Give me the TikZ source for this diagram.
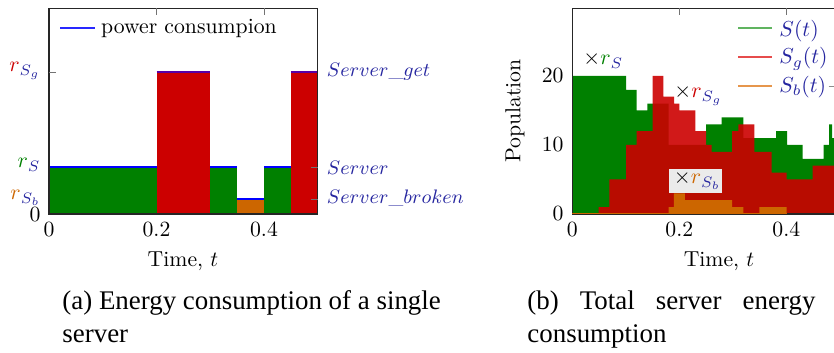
\documentclass[tikz,border=0pt]{standalone}
\usepackage{fontspec}
\newfontfamily\capfont{Liberation Serif}
\definecolor{sgreen}{RGB}{0,128,0}
\definecolor{sred}{RGB}{204,0,0}
\definecolor{sorange}{RGB}{204,102,0}
\definecolor{bluetext}{RGB}{38,38,160}
\definecolor{lgreen}{RGB}{96,180,96}
\definecolor{lred}{RGB}{230,76,76}
\definecolor{lorange}{RGB}{230,150,76}
\definecolor{legblue}{RGB}{40,40,255}
\begin{document}
\begin{tikzpicture}[x=0.4608pt,y=-0.4608pt,
  axisline/.style={black!85, line width=0.5pt},
  tickmark/.style={black!55, line width=0.4pt},
  lbl/.style={inner sep=0pt},
  rlbl/.style={inner sep=0pt, anchor=base west, text=bluetext, font=\fontsize{8.8}{11}\selectfont},
  powline/.style={blue, line width=0.5pt},
  caption/.style={inner sep=0pt, anchor=base west, font=\capfont\fontsize{12.4}{15}\selectfont},
  legline/.style={line width=0.9pt}]
\useasboundingbox (0,0) rectangle (834,353);

% ---------------- left plot ----------------
\fill[sgreen]  (49,214)    rectangle (156.5,167);
\fill[sred]    (156.5,214) rectangle (210.25,72);
\fill[sgreen]  (210.25,214) rectangle (237.1,167);
\fill[sorange] (237.1,214) rectangle (264,199);
\fill[sgreen]  (264,214)   rectangle (290.9,167);
\fill[sred]    (290.9,214) rectangle (317.5,72);
\draw[powline] (49,167) -- (156.5,167) (210.25,167) -- (237.1,167) (237.1,199) -- (264,199)
  (264,167) -- (290.9,167);
\draw[powline, draw=violet!70!blue] (156.5,72) -- (210.25,72) (290.9,72) -- (317.5,72);
\draw[axisline] (49,8.3) rectangle (317.5,214);
\draw[tickmark] (156.5,8.3) -- (156.5,15) (264,8.3) -- (264,15) (49,72) -- (56,72)
  (317.5,167) -- (310.5,167) (317.5,199) -- (310.5,199);
% legend
\fill[legblue] (60,26.8) rectangle (95,28.6);
\node[lbl, anchor=base west] (legp) at (100.7,33.3) {power consumpion};
% y labels
\node[lbl, anchor=base east] (rsg) at (41,72) {${\color{sred}r}_{\color{bluetext}S_g}$};
\node[lbl, anchor=base east] (rs)  at (41,168) {${\color{sgreen}r}_{\color{bluetext}S}$};
\node[lbl, anchor=base east] (rsb) at (41,200) {${\color{sorange}r}_{\color{bluetext}S_b}$};
\node[lbl, anchor=base east] (ly0) at (41,222) {$0$};
\node[rlbl] (sget) at (326.5,76.5) {$Server\_get$};
\node[rlbl] (serv) at (326.5,174.5) {$Server$};
\node[rlbl] (sbro) at (326.5,203.5) {$Server\_broken$};
% x labels
\node[lbl, anchor=base] (lx0) at (49,237) {$0$};
\node[lbl, anchor=base] (lx2) at (156.5,237) {$0.2$};
\node[lbl, anchor=base] (lx4) at (264,237) {$0.4$};
\node[lbl, anchor=base] (ltime) at (183,267) {Time, $t$};

% ---------------- right plot ----------------
\begin{scope}[shift={(0,214)}, y=3.1795pt]
\fill[sgreen] (572.3,0) -- plot[const plot] coordinates {(572.3,20) (626,18) (636.6,15)
  (647.3,16) (668.7,10) (706,13) (721.7,14) (743.3,11) (776,12) (787,10) (802.7,8)
  (823.7,10) (829,13) (832,11) (834,11)} -- (834,0) -- cycle;
\fill[sred, fill opacity=0.9] (572.3,0) -- plot[const plot] coordinates {(572.3,0)
  (598.5,1) (609.3,5) (626,10) (636.6,12) (652.5,20) (663.3,17) (674,16) (679.3,15)
  (695.3,12) (706,10) (711.7,9) (732,12) (738.3,13) (754.3,9) (771.7,6) (786.7,5)
  (812.7,7) (834,7)} -- (834,0) -- cycle;
\fill[sorange] (572.3,0) -- plot[const plot] coordinates {(572.3,0) (668.5,1) (673.8,3)
  (684.8,2) (732,1) (743.3,0) (759.3,1) (786.5,0) (834,0)} -- (834,0) -- cycle;
\end{scope}
\draw[axisline] (834,8.3) -- (572.3,8.3) -- (572.3,214) -- (834,214);
\draw[sorange, line width=0.8pt] (572.3,213.6) -- (786.5,213.6);
\draw[tickmark] (679.3,8.3) -- (679.3,15) (786.3,8.3) -- (786.3,15);
% legend
\draw[legline, lgreen]  (738,28) -- (772,28);
\draw[legline, lred]    (738,57) -- (772,57);
\draw[legline, lorange] (738,86) -- (772,86);
\draw[black!45, line width=0.4pt] (828.5,86) -- (834,86);
\node[lbl, anchor=base west, text=bluetext] (legs)  at (779,36.5) {$S(t)$};
\node[lbl, anchor=base west, text=bluetext] (legsg) at (779,64) {$S_g(t)$};
\node[lbl, anchor=base west, text=bluetext] (legsb) at (779,92.7) {$S_b(t)$};
% annotations
\node[lbl, anchor=base west] (ars) at (583,65) {$\times{\color{sgreen}r}_{\color{bluetext}S}$};
\node[lbl, anchor=base west] (arsg) at (674,98) {$\times{\color{sred}r}_{\color{bluetext}S_g}$};
\fill[black!8] (669.3,169.3) rectangle (721.7,193.3);
\node[lbl, anchor=base west] (arsb) at (673.5,184) {$\times{\color{sorange}r}_{\color{bluetext}S_b}$};
% ticks labels
\node[lbl, anchor=base east] (ry20) at (564,83) {$20$};
\node[lbl, anchor=base east] (ry10) at (564,151.5) {$10$};
\node[lbl, anchor=base east] (ry0)  at (564,220.5) {$0$};
\node[lbl, anchor=base] (rx0) at (572.3,237) {$0$};
\node[lbl, anchor=base] (rx2) at (679.3,237) {$0.2$};
\node[lbl, anchor=base] (rx4) at (786.3,237) {$0.4$};
\node[lbl, anchor=base] (rtime) at (719,267) {Time, $t$};
\node[lbl, rotate=90] (pop) at (515,111) {Population};

% ---------------- captions ----------------
\node[caption] (capa1) at (62,310) {(a) Energy consumption of a single};
\node[caption] (capa2) at (62,343) {server};
\node[caption] (capb1) at (527,310) {\makebox[132.7pt][s]{(b) Total server energy}};
\node[caption] (capb2) at (527,343) {consumption};
\end{tikzpicture}
\end{document}
